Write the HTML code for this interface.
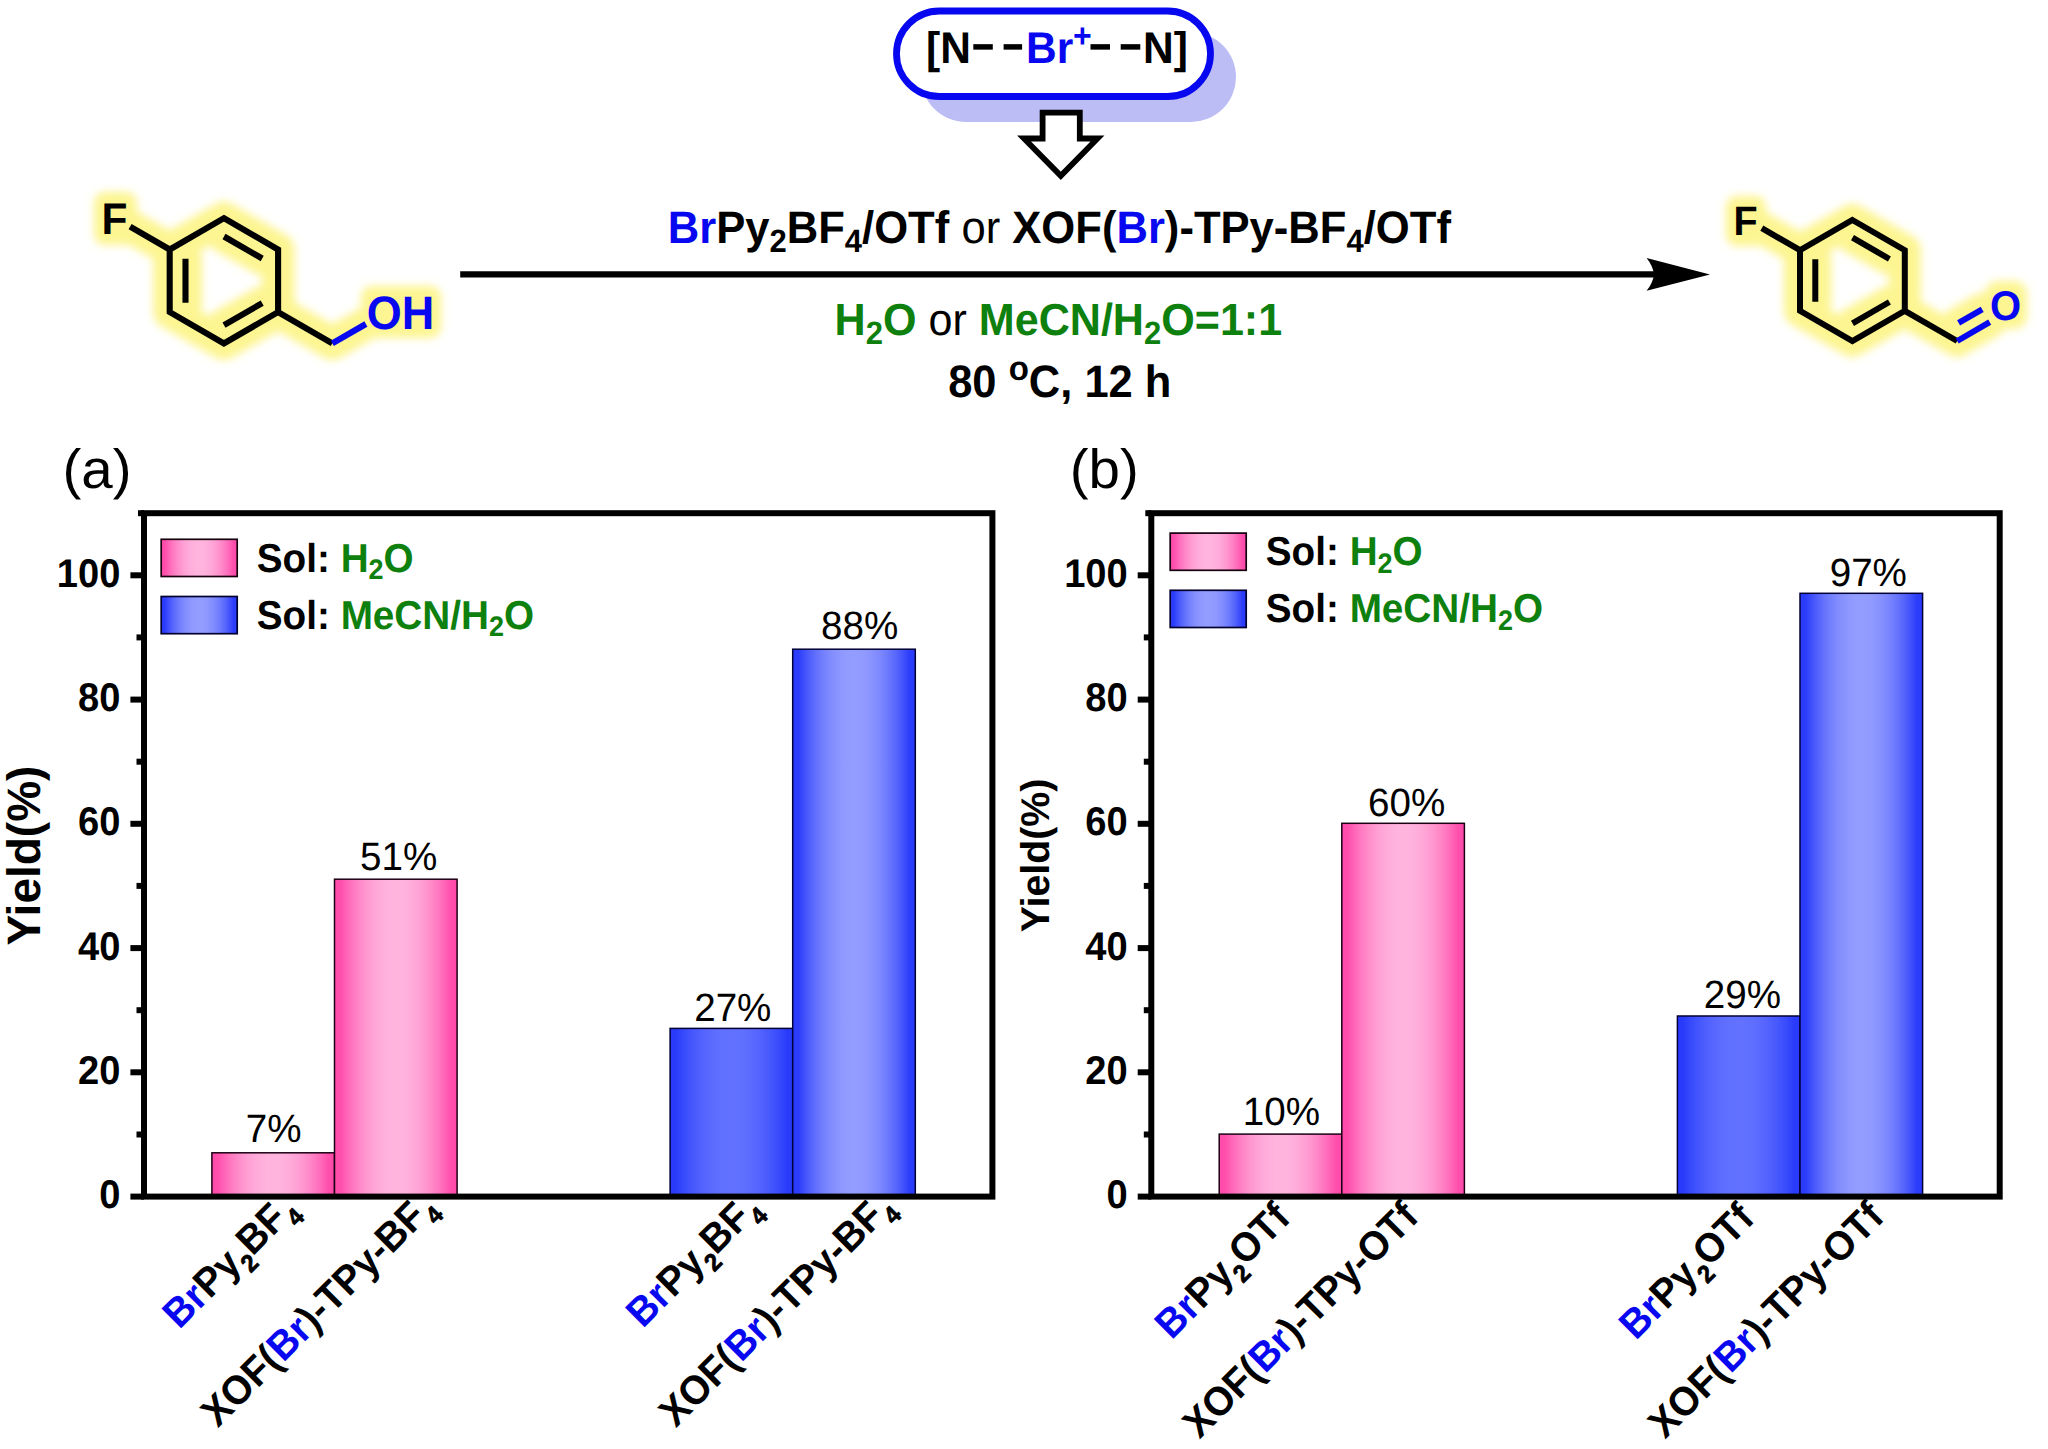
<!DOCTYPE html>
<html lang="en"><head><meta charset="utf-8"><title>Figure</title>
<style>
html,body{margin:0;padding:0;background:#fff;}
body{width:2048px;height:1449px;overflow:hidden;}
svg{display:block;font-family:"Liberation Sans", Arial, sans-serif;text-rendering:geometricPrecision;}
</style></head><body>
<svg width="2048" height="1449" viewBox="0 0 2048 1449">
<defs>
<filter id="glow" x="-20%" y="-20%" width="140%" height="140%"><feGaussianBlur stdDeviation="4.5"/></filter>
<linearGradient id="gp" x1="0" x2="1" y1="0" y2="0"><stop offset="0.000" stop-color="#ff4aaa"/><stop offset="0.050" stop-color="#ff4fac"/><stop offset="0.100" stop-color="#ff64b7"/><stop offset="0.150" stop-color="#ff77c0"/><stop offset="0.200" stop-color="#ff87c8"/><stop offset="0.250" stop-color="#ff95cf"/><stop offset="0.300" stop-color="#ffa0d4"/><stop offset="0.350" stop-color="#ffa9d8"/><stop offset="0.400" stop-color="#ffafdc"/><stop offset="0.450" stop-color="#ffb3dd"/><stop offset="0.500" stop-color="#ffb4de"/><stop offset="0.550" stop-color="#ffb3dd"/><stop offset="0.600" stop-color="#ffafdc"/><stop offset="0.650" stop-color="#ffa9d8"/><stop offset="0.700" stop-color="#ffa0d4"/><stop offset="0.750" stop-color="#ff95cf"/><stop offset="0.800" stop-color="#ff87c8"/><stop offset="0.850" stop-color="#ff77c0"/><stop offset="0.900" stop-color="#ff64b7"/><stop offset="0.950" stop-color="#ff4fac"/><stop offset="1.000" stop-color="#ff4aaa"/></linearGradient>
<linearGradient id="gb" x1="0" x2="1" y1="0" y2="0"><stop offset="0.000" stop-color="#283afa"/><stop offset="0.050" stop-color="#2d3efa"/><stop offset="0.100" stop-color="#4252fb"/><stop offset="0.150" stop-color="#5564fc"/><stop offset="0.200" stop-color="#6573fd"/><stop offset="0.250" stop-color="#7380fe"/><stop offset="0.300" stop-color="#7f8afe"/><stop offset="0.350" stop-color="#8892fe"/><stop offset="0.400" stop-color="#8e98ff"/><stop offset="0.450" stop-color="#929cff"/><stop offset="0.500" stop-color="#939dff"/><stop offset="0.550" stop-color="#929cff"/><stop offset="0.600" stop-color="#8e98ff"/><stop offset="0.650" stop-color="#8892fe"/><stop offset="0.700" stop-color="#7f8afe"/><stop offset="0.750" stop-color="#7380fe"/><stop offset="0.800" stop-color="#6573fd"/><stop offset="0.850" stop-color="#5564fc"/><stop offset="0.900" stop-color="#4252fb"/><stop offset="0.950" stop-color="#2d3efa"/><stop offset="1.000" stop-color="#283afa"/></linearGradient>
<linearGradient id="gb1" x1="0" x2="1" y1="0" y2="0"><stop offset="0.000" stop-color="#283afa"/><stop offset="0.050" stop-color="#2a3cfa"/><stop offset="0.100" stop-color="#3648fb"/><stop offset="0.150" stop-color="#4052fc"/><stop offset="0.200" stop-color="#495afd"/><stop offset="0.250" stop-color="#5161fe"/><stop offset="0.300" stop-color="#5767fe"/><stop offset="0.350" stop-color="#5c6cfe"/><stop offset="0.400" stop-color="#5f6fff"/><stop offset="0.450" stop-color="#6171ff"/><stop offset="0.500" stop-color="#6272ff"/><stop offset="0.550" stop-color="#6171ff"/><stop offset="0.600" stop-color="#5f6fff"/><stop offset="0.650" stop-color="#5c6cfe"/><stop offset="0.700" stop-color="#5767fe"/><stop offset="0.750" stop-color="#5161fe"/><stop offset="0.800" stop-color="#495afd"/><stop offset="0.850" stop-color="#4052fc"/><stop offset="0.900" stop-color="#3648fb"/><stop offset="0.950" stop-color="#2a3cfa"/><stop offset="1.000" stop-color="#283afa"/></linearGradient>
</defs>
<rect width="2048" height="1449" fill="#fff"/>

<g id="pill">
<rect x="921" y="32" width="315" height="90" rx="45" fill="#bdbdf6"/>
<rect x="896.5" y="11" width="314" height="85.5" rx="42.75" fill="#fff" stroke="#0707f0" stroke-width="6.8"/>
<text transform="translate(926.00,63.40) scale(1,1.042)" font-size="42.5" font-weight="bold" text-anchor="start" style="white-space:pre">[N</text>
<text transform="translate(1026.00,63.40) scale(1,1.042)" font-size="42.5" font-weight="bold" text-anchor="start" fill="#0707f0" style="white-space:pre">Br</text>
<text transform="translate(1073.00,46.60) scale(1,1.042)" font-size="32" font-weight="bold" text-anchor="start" fill="#0707f0" style="white-space:pre">+</text>
<text transform="translate(1143.00,63.40) scale(1,1.042)" font-size="42.5" font-weight="bold" text-anchor="start" style="white-space:pre">N]</text>
<line x1="973.3" y1="46.9" x2="992.8" y2="46.9" stroke="#000" stroke-width="5.5"/>
<line x1="1003.6" y1="46.9" x2="1022.1" y2="46.9" stroke="#000" stroke-width="5.5"/>
<line x1="1090.5" y1="46.9" x2="1110" y2="46.9" stroke="#000" stroke-width="5.5"/>
<line x1="1120.7" y1="46.9" x2="1140.3" y2="46.9" stroke="#000" stroke-width="5.5"/>
<path d="M1042.6 112.7 H1079.8 V138.5 H1097.5 L1060.8 175.8 L1024 138.5 H1042.6 Z" fill="#fff" stroke="#000" stroke-width="5.8" stroke-linejoin="miter"/>
</g>
<g id="mol-left">
<g filter="url(#glow)" fill="none" stroke="#fdf592" stroke-width="33" stroke-linecap="round" stroke-linejoin="round">
<path d="M223.9 218.2 L278.1 249.5 L278.1 312.1 L223.9 343.4 L169.7 312.1 L169.7 249.5 Z M185.5 258.8 L185.5 302.8 M224.0 236.5 L262.2 258.5 M262.2 303.1 L224.0 325.1 M169.7 249.5 L130.1 226.7 M278.1 312.1 L332.3 343.4 M332.3 343.4 L365.9 324.0"/>
<rect x="99" y="197" width="33" height="43" rx="6" fill="#fdf592" stroke-width="10"/>
<rect x="366" y="291" width="70" height="42" rx="6" fill="#fdf592" stroke-width="10"/>
</g>
<path d="M223.9 218.2 L278.1 249.5 L278.1 312.1 L223.9 343.4 L169.7 312.1 L169.7 249.5 Z M185.5 258.8 L185.5 302.8 M224.0 236.5 L262.2 258.5 M262.2 303.1 L224.0 325.1 M169.7 249.5 L130.1 226.7 M278.1 312.1 L332.3 343.4" fill="none" stroke="#000" stroke-width="6.1" stroke-linejoin="miter" stroke-linecap="butt"/>
<path d="M332.3 343.4 L365.9 324.0" fill="none" stroke="#0707f0" stroke-width="6.1"/>
<text transform="translate(101.50,234.30) scale(1,1.042)" font-size="42.5" font-weight="bold" text-anchor="start" style="white-space:pre">F</text>
<text transform="translate(366.80,329.00) scale(1,1.042)" font-size="45" font-weight="bold" text-anchor="start" fill="#0707f0" style="white-space:pre">OH</text>
</g>
<g id="mol-right">
<g filter="url(#glow)" fill="none" stroke="#fdf592" stroke-width="32" stroke-linecap="round" stroke-linejoin="round">
<path d="M1852.4 220.0 L1904.8 250.2 L1904.8 310.8 L1852.4 341.0 L1800.0 310.8 L1800.0 250.2 Z M1815.3 259.2 L1815.3 301.8 M1852.5 237.7 L1889.4 259.0 M1889.4 302.0 L1852.5 323.3 M1800.0 250.2 L1761.8 228.2 M1904.8 310.8 L1957.2 341.0 M1957.2 341.0 L1989.7 322.2 M1958.6 322.9 L1982.2 309.3"/>
<rect x="1731" y="201" width="30" height="40" rx="6" fill="#fdf592" stroke-width="10"/>
<rect x="1990" y="286" width="32" height="38" rx="8" fill="#fdf592" stroke-width="10"/>
</g>
<path d="M1852.4 220.0 L1904.8 250.2 L1904.8 310.8 L1852.4 341.0 L1800.0 310.8 L1800.0 250.2 Z M1815.3 259.2 L1815.3 301.8 M1852.5 237.7 L1889.4 259.0 M1889.4 302.0 L1852.5 323.3 M1800.0 250.2 L1761.8 228.2 M1904.8 310.8 L1957.2 341.0" fill="none" stroke="#000" stroke-width="6.0" stroke-linejoin="miter"/>
<path d="M1957.2 341.0 L1989.7 322.2 M1958.6 322.9 L1982.2 309.3" fill="none" stroke="#0707f0" stroke-width="6.0"/>
<text transform="translate(1733.50,235.00) scale(1,1.042)" font-size="39.5" font-weight="bold" text-anchor="start" style="white-space:pre">F</text>
<text transform="translate(1990.00,320.00) scale(1,1.042)" font-size="40" font-weight="bold" text-anchor="start" fill="#0707f0" style="white-space:pre">O</text>
</g>
<g id="rxn">
<line x1="460.2" y1="274.4" x2="1660" y2="274.4" stroke="#000" stroke-width="6.2"/>
<path d="M1710 274.4 L1646.6 258 Q1652.6 265.5 1654.1 274.4 Q1652.6 283.3 1646.6 290.8 Z" fill="#000"/>
<text transform="translate(1059.30,242.70) scale(1,1.042)" font-size="43.6" font-weight="bold" text-anchor="middle" style="white-space:pre"><tspan fill="#0707f0">Br</tspan>Py<tspan dy="8.50" font-size="31">2</tspan><tspan dy="-8.50">BF</tspan><tspan dy="8.50" font-size="31">4</tspan><tspan dy="-8.50">/OTf</tspan><tspan font-weight="normal"> or </tspan>XOF(<tspan fill="#0707f0">Br</tspan>)-TPy-BF<tspan dy="8.50" font-size="31">4</tspan><tspan dy="-8.50">/OTf</tspan></text>
<text transform="translate(1058.40,335.00) scale(1,1.042)" font-size="43.1" font-weight="bold" text-anchor="middle" style="white-space:pre"><tspan fill="#0e800e">H</tspan><tspan dy="8.50" fill="#0e800e" font-size="31">2</tspan><tspan dy="-8.50" fill="#0e800e">O</tspan><tspan font-weight="normal"> or </tspan><tspan fill="#0e800e">MeCN/H</tspan><tspan dy="8.50" fill="#0e800e" font-size="31">2</tspan><tspan dy="-8.50" fill="#0e800e">O=1:1</tspan></text>
<text transform="translate(1059.80,396.60) scale(1,1.042)" font-size="43.5" font-weight="bold" text-anchor="middle" style="white-space:pre">80 <tspan dy="-15.60" font-size="33">o</tspan><tspan dy="15.60">C, 12 h</tspan></text>
</g>
<g id="chart-a">
<rect x="211.9" y="1152.8" width="122.6" height="43.8" fill="url(#gp)" stroke="#1c0014" stroke-width="1.5"/>
<text transform="translate(273.70,1142.38) scale(1,1.022)" font-size="38.6" font-weight="normal" text-anchor="middle" style="white-space:pre">7%</text>
<rect x="334.5" y="879.2" width="122.6" height="317.4" fill="url(#gp)" stroke="#1c0014" stroke-width="1.5"/>
<text transform="translate(398.70,870.43) scale(1,1.022)" font-size="38.6" font-weight="normal" text-anchor="middle" style="white-space:pre">51%</text>
<rect x="670.1" y="1028.4" width="122.6" height="168.2" fill="url(#gb1)" stroke="#020236" stroke-width="1.5"/>
<text transform="translate(732.80,1021.34) scale(1,1.022)" font-size="38.6" font-weight="normal" text-anchor="middle" style="white-space:pre">27%</text>
<rect x="792.7" y="649.2" width="122.6" height="547.4" fill="url(#gb)" stroke="#020236" stroke-width="1.5"/>
<text transform="translate(859.60,638.90) scale(1,1.022)" font-size="38.6" font-weight="normal" text-anchor="middle" style="white-space:pre">88%</text>
<rect x="144.0" y="513.2" width="848.4" height="683.4" fill="none" stroke="#000" stroke-width="6.0"/>
<line x1="138.0" y1="513.2" x2="144.0" y2="513.2" stroke="#000" stroke-width="6.0"/>
<line x1="130.4" y1="1196.6" x2="144.0" y2="1196.6" stroke="#000" stroke-width="6"/>
<text transform="translate(120.40,1208.20) scale(1,1.05)" font-size="38.1" font-weight="bold" text-anchor="end" style="white-space:pre">0</text>
<line x1="136.5" y1="1134.5" x2="144.0" y2="1134.5" stroke="#000" stroke-width="6"/>
<line x1="130.4" y1="1072.3" x2="144.0" y2="1072.3" stroke="#000" stroke-width="6"/>
<text transform="translate(120.40,1083.94) scale(1,1.05)" font-size="38.1" font-weight="bold" text-anchor="end" style="white-space:pre">20</text>
<line x1="136.5" y1="1010.2" x2="144.0" y2="1010.2" stroke="#000" stroke-width="6"/>
<line x1="130.4" y1="948.1" x2="144.0" y2="948.1" stroke="#000" stroke-width="6"/>
<text transform="translate(120.40,959.68) scale(1,1.05)" font-size="38.1" font-weight="bold" text-anchor="end" style="white-space:pre">40</text>
<line x1="136.5" y1="885.9" x2="144.0" y2="885.9" stroke="#000" stroke-width="6"/>
<line x1="130.4" y1="823.8" x2="144.0" y2="823.8" stroke="#000" stroke-width="6"/>
<text transform="translate(120.40,835.42) scale(1,1.05)" font-size="38.1" font-weight="bold" text-anchor="end" style="white-space:pre">60</text>
<line x1="136.5" y1="761.7" x2="144.0" y2="761.7" stroke="#000" stroke-width="6"/>
<line x1="130.4" y1="699.6" x2="144.0" y2="699.6" stroke="#000" stroke-width="6"/>
<text transform="translate(120.40,711.16) scale(1,1.05)" font-size="38.1" font-weight="bold" text-anchor="end" style="white-space:pre">80</text>
<line x1="136.5" y1="637.4" x2="144.0" y2="637.4" stroke="#000" stroke-width="6"/>
<line x1="130.4" y1="575.3" x2="144.0" y2="575.3" stroke="#000" stroke-width="6"/>
<text transform="translate(120.40,586.90) scale(1,1.05)" font-size="38.1" font-weight="bold" text-anchor="end" style="white-space:pre">100</text>
<text transform="translate(39.90,855.50) rotate(-90) scale(1,1.02)" font-size="46" font-weight="bold" text-anchor="middle" style="white-space:pre">Yield(%)</text>
<text transform="translate(62.40,488.00) scale(1,0.975)" font-size="56.5" font-weight="normal" text-anchor="start" style="white-space:pre">(a)</text>
<rect x="161.2" y="539.3" width="76" height="37.2" fill="url(#gp)" stroke="#16000e" stroke-width="1.7"/>
<rect x="161.2" y="596.5" width="76" height="37.2" fill="url(#gb)" stroke="#01012e" stroke-width="1.7"/>
<text transform="translate(256.80,571.50) scale(1,1.042)" font-size="38.7" font-weight="bold" text-anchor="start" style="white-space:pre">Sol: <tspan fill="#0e800e">H</tspan><tspan dy="7.50" fill="#0e800e" font-size="27">2</tspan><tspan dy="-7.50" fill="#0e800e">O</tspan></text>
<text transform="translate(256.80,628.60) scale(1,1.042)" font-size="38.7" font-weight="bold" text-anchor="start" style="white-space:pre">Sol: <tspan fill="#0e800e">MeCN/H</tspan><tspan dy="7.50" fill="#0e800e" font-size="27">2</tspan><tspan dy="-7.50" fill="#0e800e">O</tspan></text>
<text transform="translate(179.20,1330.10) rotate(-45) scale(1,1.042)" font-size="38.8" font-weight="bold" text-anchor="start" style="white-space:pre"><tspan fill="#0707f0">Br</tspan>Py<tspan dy="10.00" font-size="23.5" font-weight="bold" stroke="#000" stroke-width="0.75">2</tspan><tspan dy="-10.00">BF</tspan><tspan dy="10.00" font-size="23.5" font-weight="bold" stroke="#000" stroke-width="0.75">4</tspan></text>
<text transform="translate(217.80,1428.50) rotate(-45) scale(1,1.042)" font-size="38.8" font-weight="bold" text-anchor="start" style="white-space:pre">XOF(<tspan fill="#0707f0">Br</tspan>)-TPy-BF<tspan dy="10.00" font-size="23.5" font-weight="bold" stroke="#000" stroke-width="0.75">4</tspan></text>
<text transform="translate(642.80,1329.10) rotate(-45) scale(1,1.042)" font-size="38.8" font-weight="bold" text-anchor="start" style="white-space:pre"><tspan fill="#0707f0">Br</tspan>Py<tspan dy="10.00" font-size="23.5" font-weight="bold" stroke="#000" stroke-width="0.75">2</tspan><tspan dy="-10.00">BF</tspan><tspan dy="10.00" font-size="23.5" font-weight="bold" stroke="#000" stroke-width="0.75">4</tspan></text>
<text transform="translate(675.70,1428.50) rotate(-45) scale(1,1.042)" font-size="38.8" font-weight="bold" text-anchor="start" style="white-space:pre">XOF(<tspan fill="#0707f0">Br</tspan>)-TPy-BF<tspan dy="10.00" font-size="23.5" font-weight="bold" stroke="#000" stroke-width="0.75">4</tspan></text>
</g>
<g id="chart-b">
<rect x="1219.2" y="1134.1" width="122.6" height="62.5" fill="url(#gp)" stroke="#1c0014" stroke-width="1.5"/>
<text transform="translate(1281.40,1124.53) scale(1,1.022)" font-size="38.6" font-weight="normal" text-anchor="middle" style="white-space:pre">10%</text>
<rect x="1341.8" y="823.3" width="122.6" height="373.3" fill="url(#gp)" stroke="#1c0014" stroke-width="1.5"/>
<text transform="translate(1406.70,815.88) scale(1,1.022)" font-size="38.6" font-weight="normal" text-anchor="middle" style="white-space:pre">60%</text>
<rect x="1677.4" y="1016.0" width="122.6" height="180.6" fill="url(#gb1)" stroke="#020236" stroke-width="1.5"/>
<text transform="translate(1742.40,1007.51) scale(1,1.022)" font-size="38.6" font-weight="normal" text-anchor="middle" style="white-space:pre">29%</text>
<rect x="1800.0" y="593.3" width="122.6" height="603.3" fill="url(#gb)" stroke="#020236" stroke-width="1.5"/>
<text transform="translate(1868.30,585.85) scale(1,1.022)" font-size="38.6" font-weight="normal" text-anchor="middle" style="white-space:pre">97%</text>
<rect x="1151.3" y="513.2" width="848.4" height="683.4" fill="none" stroke="#000" stroke-width="6.0"/>
<line x1="1145.3" y1="513.2" x2="1151.3" y2="513.2" stroke="#000" stroke-width="6.0"/>
<line x1="1137.7" y1="1196.6" x2="1151.3" y2="1196.6" stroke="#000" stroke-width="6"/>
<text transform="translate(1127.70,1208.20) scale(1,1.05)" font-size="38.1" font-weight="bold" text-anchor="end" style="white-space:pre">0</text>
<line x1="1143.8" y1="1134.5" x2="1151.3" y2="1134.5" stroke="#000" stroke-width="6"/>
<line x1="1137.7" y1="1072.3" x2="1151.3" y2="1072.3" stroke="#000" stroke-width="6"/>
<text transform="translate(1127.70,1083.94) scale(1,1.05)" font-size="38.1" font-weight="bold" text-anchor="end" style="white-space:pre">20</text>
<line x1="1143.8" y1="1010.2" x2="1151.3" y2="1010.2" stroke="#000" stroke-width="6"/>
<line x1="1137.7" y1="948.1" x2="1151.3" y2="948.1" stroke="#000" stroke-width="6"/>
<text transform="translate(1127.70,959.68) scale(1,1.05)" font-size="38.1" font-weight="bold" text-anchor="end" style="white-space:pre">40</text>
<line x1="1143.8" y1="885.9" x2="1151.3" y2="885.9" stroke="#000" stroke-width="6"/>
<line x1="1137.7" y1="823.8" x2="1151.3" y2="823.8" stroke="#000" stroke-width="6"/>
<text transform="translate(1127.70,835.42) scale(1,1.05)" font-size="38.1" font-weight="bold" text-anchor="end" style="white-space:pre">60</text>
<line x1="1143.8" y1="761.7" x2="1151.3" y2="761.7" stroke="#000" stroke-width="6"/>
<line x1="1137.7" y1="699.6" x2="1151.3" y2="699.6" stroke="#000" stroke-width="6"/>
<text transform="translate(1127.70,711.16) scale(1,1.05)" font-size="38.1" font-weight="bold" text-anchor="end" style="white-space:pre">80</text>
<line x1="1143.8" y1="637.4" x2="1151.3" y2="637.4" stroke="#000" stroke-width="6"/>
<line x1="1137.7" y1="575.3" x2="1151.3" y2="575.3" stroke="#000" stroke-width="6"/>
<text transform="translate(1127.70,586.90) scale(1,1.05)" font-size="38.1" font-weight="bold" text-anchor="end" style="white-space:pre">100</text>
<text transform="translate(1049.40,855.50) rotate(-90) scale(1,1.02)" font-size="39.3" font-weight="bold" text-anchor="middle" style="white-space:pre">Yield(%)</text>
<text transform="translate(1069.70,488.00) scale(1,0.975)" font-size="56.5" font-weight="normal" text-anchor="start" style="white-space:pre">(b)</text>
<rect x="1170.2" y="533.1" width="76" height="37.2" fill="url(#gp)" stroke="#16000e" stroke-width="1.7"/>
<rect x="1170.2" y="590.3" width="76" height="37.2" fill="url(#gb)" stroke="#01012e" stroke-width="1.7"/>
<text transform="translate(1265.80,565.30) scale(1,1.042)" font-size="38.7" font-weight="bold" text-anchor="start" style="white-space:pre">Sol: <tspan fill="#0e800e">H</tspan><tspan dy="7.50" fill="#0e800e" font-size="27">2</tspan><tspan dy="-7.50" fill="#0e800e">O</tspan></text>
<text transform="translate(1265.80,622.40) scale(1,1.042)" font-size="38.7" font-weight="bold" text-anchor="start" style="white-space:pre">Sol: <tspan fill="#0e800e">MeCN/H</tspan><tspan dy="7.50" fill="#0e800e" font-size="27">2</tspan><tspan dy="-7.50" fill="#0e800e">O</tspan></text>
<text transform="translate(1171.60,1340.40) rotate(-45) scale(1,1.042)" font-size="38.8" font-weight="bold" text-anchor="start" style="white-space:pre"><tspan fill="#0707f0">Br</tspan>Py<tspan dy="10.00" font-size="23.5" font-weight="bold" stroke="#000" stroke-width="0.75">2</tspan><tspan dy="-10.00">OTf</tspan></text>
<text transform="translate(1199.40,1439.80) rotate(-45) scale(1,1.042)" font-size="38.8" font-weight="bold" text-anchor="start" style="white-space:pre">XOF(<tspan fill="#0707f0">Br</tspan>)-TPy-OTf</text>
<text transform="translate(1635.70,1341.00) rotate(-45) scale(1,1.042)" font-size="38.8" font-weight="bold" text-anchor="start" style="white-space:pre"><tspan fill="#0707f0">Br</tspan>Py<tspan dy="10.00" font-size="23.5" font-weight="bold" stroke="#000" stroke-width="0.75">2</tspan><tspan dy="-10.00">OTf</tspan></text>
<text transform="translate(1665.00,1439.80) rotate(-45) scale(1,1.042)" font-size="38.8" font-weight="bold" text-anchor="start" style="white-space:pre">XOF(<tspan fill="#0707f0">Br</tspan>)-TPy-OTf</text>
</g>
</svg></body></html>
